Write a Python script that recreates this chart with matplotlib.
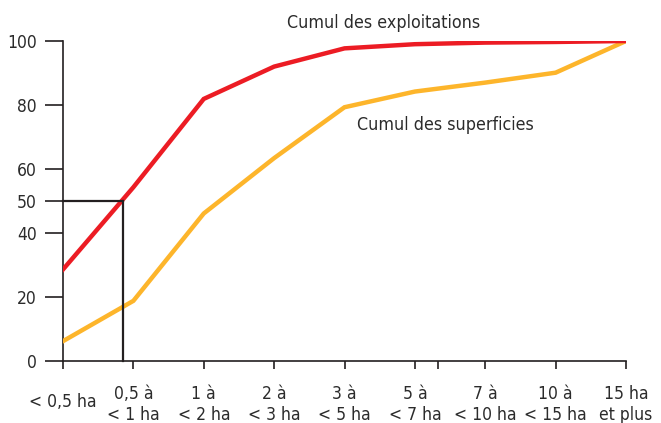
import matplotlib
matplotlib.use('Agg')
import matplotlib.pyplot as plt
from matplotlib.transforms import ScaledTranslation

# Classes de superficie
classes = ['< 0,5 ha', '0,5 à\n< 1 ha', '1 à\n< 2 ha', '2 à\n< 3 ha', '3 à\n< 5 ha',
           '5 à\n< 7 ha', '7 à\n< 10 ha', '10 à\n< 15 ha', '15 ha\net plus']
cumul_exploitations = [28.6, 54.3, 81.9, 92.0, 97.7, 99.0, 99.5, 99.7, 100]
cumul_superficies = [6.2, 18.8, 46.1, 63.4, 79.3, 84.2, 87.0, 90.1, 100]
y_ticks = [0, 20, 40, 50, 60, 80, 100]
median_x = 0.853
median_y = 50

plt.rcParams['font.family'] = ['DejaVu Sans']
plt.rcParams['font.stretch'] = 'condensed'
text_col = '#2b2b2b'

fig = plt.figure(figsize=(6.61, 4.23), dpi=100)
ax = fig.add_axes([63 / 661, 62 / 423, 563 / 661, 320 / 423])

x = list(range(len(classes)))
ax.plot(x, cumul_superficies, color='#fdb52b', lw=3.2, solid_joinstyle='miter', zorder=3)
ax.plot(x, cumul_exploitations, color='#ec1c24', lw=3.2, solid_joinstyle='miter', zorder=4)

# repère de la médiane
ax.plot([0, median_x], [median_y, median_y], color='#231f20', lw=1.6, zorder=5, clip_on=False)
ax.plot([median_x, median_x], [0, median_y], color='#231f20', lw=1.6, zorder=5, clip_on=False)

ax.text(3.18, 105.5, 'Cumul des exploitations', fontsize=12.8, color=text_col, va='center')
ax.text(4.18, 73.8, 'Cumul des superficies', fontsize=12.8, color=text_col, va='center')

ax.set_xlim(0, 8)
ax.set_ylim(0, 100)
ax.set_xticks(x)
ax.set_xticklabels(classes, fontsize=12.5, color=text_col, linespacing=1.25)
ax.set_xticks([5.33], minor=True)
ax.set_yticks(y_ticks)
ax.set_yticklabels([str(v) for v in y_ticks], fontsize=12.5, color=text_col)

ax.tick_params(axis='y', length=13, width=1.2, color='#231f20', pad=6)
ax.tick_params(axis='x', which='both', length=6, width=1.2, color='#231f20', pad=11)

# la première classe est centrée verticalement sur les deux lignes
first = ax.get_xticklabels()[0]
first.set_transform(first.get_transform() + ScaledTranslation(0, -6 / 72, fig.dpi_scale_trans))

for s in ['top', 'right']:
    ax.spines[s].set_visible(False)
for s in ['left', 'bottom']:
    ax.spines[s].set_color('#231f20')
    ax.spines[s].set_linewidth(1.2)

fig.savefig('out.png', dpi=100)
